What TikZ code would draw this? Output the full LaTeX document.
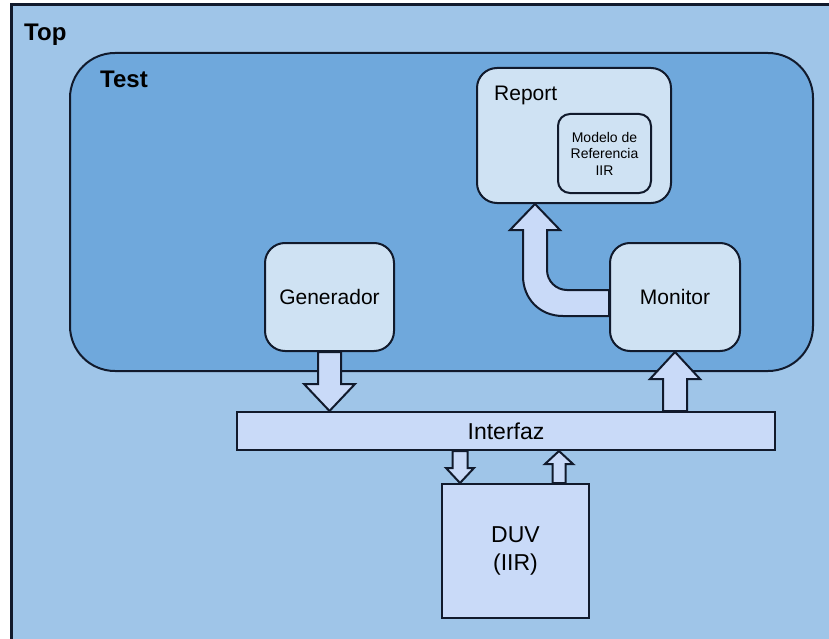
\documentclass[tikz,border=0pt]{standalone}
\usepackage{fontspec}
\setmainfont{Liberation Sans}
\usetikzlibrary{calc}
\definecolor{topbg}{HTML}{9FC5E8}
\definecolor{testbg}{HTML}{6FA8DC}
\definecolor{boxbg}{HTML}{CFE2F3}
\definecolor{busbg}{HTML}{C9DAF8}
\definecolor{edge}{HTML}{111A2C}

\begin{document}
\begin{tikzpicture}[x=1pt,y=-1pt,
  frame/.style={draw=edge, line width=2pt, inner sep=0pt, anchor=north west},
  unit/.style={frame, fill=boxbg, rounded corners=20pt,
    font=\fontsize{21}{25}\selectfont},
  bus/.style={frame, fill=busbg, align=center,
    font=\fontsize{23}{28}\selectfont},
  title/.style={anchor=base west, inner sep=0pt,
    font=\bfseries\fontsize{24}{28}\selectfont},
  barrow/.style={draw=edge, line width=2pt, fill=busbg, line join=miter},
  ]
\useasboundingbox (0,0) rectangle (829,639);
\fill[white] (0,0) rectangle (829,639);

% outer "Top" frame (its right and bottom edges lie beyond the page)
\draw[edge, line width=3pt, fill=topbg] (11,5) rectangle (850,660);
\node[title] (toplbl) at (24,41) {Top};

% test environment
\node[frame, fill=testbg, rounded corners=45pt,
      minimum width=743pt, minimum height=318pt] (test) at (69,52) {};
\node[title] (testlbl) at (100,88) {Test};

% report with its reference model
\node[unit, minimum width=194pt, minimum height=135pt] (rep) at (476,67) {};
\node[anchor=base west, inner sep=0pt, font=\fontsize{21}{25}\selectfont] (replbl) at (494,101) {Report};
\node[frame, fill=boxbg, rounded corners=12pt, minimum width=93pt,
      minimum height=79pt, align=center,
      font=\fontsize{14}{16.5}\selectfont] (model) at (557,113)
      {Modelo de\\Referencia\\IIR};

% generator and monitor
\node[unit, minimum width=129pt, minimum height=108pt] (gen) at (264,242) {Generador};
\node[unit, minimum width=130pt, minimum height=108pt] (mon) at (609,242) {Monitor};

% interface and device under verification
\node[bus, minimum width=538pt, minimum height=38pt] (ifz) at (236,411) {Interfaz};
\node[bus, minimum width=147pt, minimum height=134pt] (duv) at (441,483) {DUV\\(IIR)};

% Generador -> Interfaz
\coordinate (gA) at (gen.south);
\coordinate (gT) at (gA |- ifz.north);
\draw[barrow] ($(gA)+(-11.5,0)$) -- ($(gT)+(-11.5,-27)$) -- ($(gT)+(-25.5,-27)$)
  -- (gT) -- ($(gT)+(25.5,-27)$) -- ($(gT)+(11.5,-27)$) -- ($(gA)+(11.5,0)$) -- cycle;

% Interfaz -> Monitor
\coordinate (mT) at (mon.south);
\coordinate (mA) at (mT |- ifz.north);
\draw[barrow] ($(mA)+(-12,0)$) -- ($(mT)+(-12,27)$) -- ($(mT)+(-25,27)$)
  -- (mT) -- ($(mT)+(25,27)$) -- ($(mT)+(12,27)$) -- ($(mA)+(12,0)$) -- cycle;

% Interfaz -> DUV
\coordinate (dA) at ($(ifz.south west)+(224,0)$);
\coordinate (dT) at (dA |- duv.north);
\draw[barrow] ($(dA)+(-7.5,0)$) -- ($(dT)+(-7.5,-15)$) -- ($(dT)+(-14,-15)$)
  -- (dT) -- ($(dT)+(14,-15)$) -- ($(dT)+(7.5,-15)$) -- ($(dA)+(7.5,0)$) -- cycle;

% DUV -> Interfaz
\coordinate (uA) at ($(duv.north west)+(118,0)$);
\coordinate (uT) at (uA |- ifz.south);
\draw[barrow] ($(uA)+(-6.5,0)$) -- ($(uT)+(-6.5,13)$) -- ($(uT)+(-14,13)$)
  -- (uT) -- ($(uT)+(14,13)$) -- ($(uT)+(6.5,13)$) -- ($(uA)+(6.5,0)$) -- cycle;

% Monitor -> Report (bent arrow)
\coordinate (rT) at ($(rep.south west)+(59,0)$);
\draw[barrow] ($(mon.north west)+(0,74)$) -- (563,316)
  .. controls (539,316) and (523,298) .. (523,276) -- (523,230) -- (510,230)
  -- (rT) -- (560,230) -- (547,230) -- (547,270)
  .. controls (547,281) and (556,290) .. (567,290)
  -- ($(mon.north west)+(0,48)$) -- cycle;
\end{tikzpicture}
\end{document}
